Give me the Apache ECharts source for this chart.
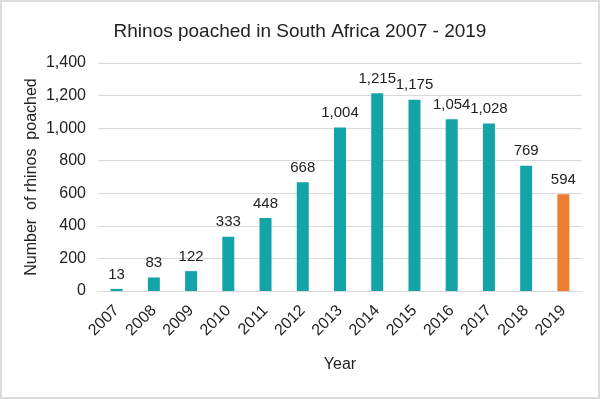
<!DOCTYPE html>
<html>
<head>
<meta charset="utf-8">
<script src="https://cdn.jsdelivr.net/npm/echarts@6/dist/echarts.min.js"></script>
<style>
html, body { margin: 0; padding: 0; background: #fff; }
#chart1 { width: 600px; height: 399px; box-sizing: border-box; border: 2px solid #dcdcdc; }
</style>
</head>
<body>
<div id="chart1"></div>
<script>
var years = ['2007', '2008', '2009', '2010', '2011', '2012', '2013', '2014', '2015', '2016', '2017', '2018', '2019'];
var poached = [13, 83, 122, 333, 448, 668, 1004, 1215, 1175, 1054, 1028, 769, 594];
var teal = '#14a3a6';
var orange = '#ed7d31';

var myChart1 = echarts.init(document.getElementById('chart1'));

// last year highlighted in orange
var barData = poached.map(function (v, i) {
    return {
        value: v,
        itemStyle: { color: i == poached.length - 1 ? orange : teal }
    };
});

myChart1.setOption({
    animation: false,
    textStyle: { fontFamily: 'Liberation Sans, Arial, sans-serif' },
    title: {
        text: 'Rhinos poached in South Africa 2007 - 2019',
        left: 'center',
        top: 15,
        textStyle: { fontSize: 19, fontWeight: 'normal', color: '#222' }
    },
    grid: { left: 96, right: 16, top: 61, bottom: 106 },
    xAxis: {
        type: 'category',
        data: years,
        name: 'Year',
        nameLocation: 'middle',
        nameGap: 66,
        nameMoveOverlap: false,
        nameTextStyle: { fontSize: 16, color: '#222' },
        axisLine: { lineStyle: { color: '#d9d9d9' } },
        axisTick: { show: false },
        axisLabel: { rotate: 45, fontSize: 16, color: '#222', margin: 17 }
    },
    yAxis: {
        type: 'value',
        min: 0,
        max: 1400,
        interval: 200,
        name: 'Number  of rhinos  poached',
        nameLocation: 'middle',
        nameGap: 58,
        nameMoveOverlap: false,
        nameTextStyle: { fontSize: 16, color: '#222' },
        axisLabel: {
            fontSize: 16, color: '#222', margin: 12,
            formatter: function (v) { return v.toLocaleString('en-US'); }
        },
        splitLine: { lineStyle: { color: '#d9d9d9' } }
    },
    series: [{
        type: 'bar',
        data: barData,
        barWidth: 12,
        label: {
            show: true,
            position: 'top',
            distance: 7,
            fontSize: 15,
            color: '#222',
            formatter: function (p) { return p.value.toLocaleString('en-US'); }
        }
    }]
});

window.onresize = function () {
    myChart1.resize();
}
</script>
</body>
</html>
